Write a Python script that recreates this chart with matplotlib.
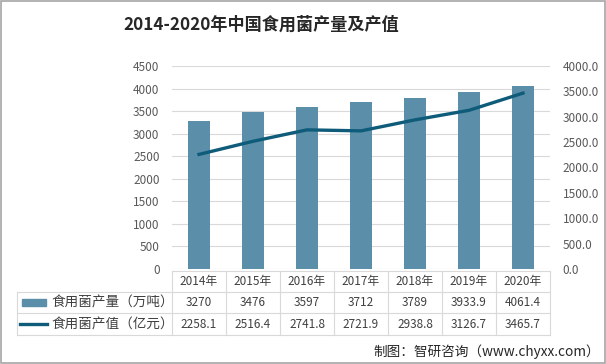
import numpy as np
import matplotlib.pyplot as plt
from matplotlib.patches import Rectangle

plt.rcParams['font.family'] = ['Noto Sans CJK SC', 'DejaVu Sans']

years = ["2014年", "2015年", "2016年", "2017年", "2018年", "2019年", "2020年"]
output_wt = [3270, 3476, 3597, 3712, 3789, 3933.9, 4061.4]
output_val = [2258.1, 2516.4, 2741.8, 2721.9, 2938.8, 3126.7, 3465.7]
output_wt_txt = ["3270", "3476", "3597", "3712", "3789", "3933.9", "4061.4"]
output_val_txt = ["2258.1", "2516.4", "2741.8", "2721.9", "2938.8", "3126.7", "3465.7"]
label_wt = "食用菌产量（万吨）"
label_val = "食用菌产值（亿元）"

BAR_C = "#5B8FA9"
LINE_C = "#0F5C7A"
GRID_C = "#D9D9D9"
TXT_C = "#595959"

W, H = 606, 364
fig = plt.figure(figsize=(W / 100, H / 100), dpi=100)
fig.patch.set_facecolor("white")

x0, x1, yb, yt = 172, 550, 269, 66
ax = fig.add_axes([x0 / W, 1 - yb / H, (x1 - x0) / W, (yb - yt) / H])
ax2 = ax.twinx()

x = np.arange(len(years))
ax.bar(x, output_wt, width=0.41, color=BAR_C, zorder=3)
ax2.plot(x, output_val, color=LINE_C, lw=2.4, zorder=4)

ax.set_xlim(-0.5, len(years) - 0.5)
ax.set_ylim(0, 4500)
ax.set_yticks(np.arange(0, 4501, 500))
ax2.set_ylim(0, 4000)
ax2.set_yticks(np.arange(0, 4001, 500))
ax2.set_yticklabels([f"{v:.1f}" for v in np.arange(0, 4001, 500)])
ax.grid(axis="y", color=GRID_C, lw=0.8, zorder=0)
ax.set_axisbelow(True)
ax.set_xticks([])
for a in (ax, ax2):
    for s in a.spines.values():
        s.set_visible(False)
    a.tick_params(axis="y", length=0, labelsize=8.5, labelcolor=TXT_C, pad=9)
ax.set_zorder(ax2.get_zorder() - 1)
ax2.patch.set_visible(False)

# data table under the plot
col_w = (x1 - x0) / len(years)
rows_y = [271, 292, 313, 335]
tl = 17


def fx(px):
    return px / W


def fy(py):
    return 1 - py / H


lkw = dict(color=GRID_C, lw=0.8, transform=fig.transFigure)
fig.add_artist(plt.Line2D([fx(x0), fx(x1)], [fy(rows_y[0])] * 2, **lkw))
for ry in rows_y[1:]:
    fig.add_artist(plt.Line2D([fx(tl), fx(x1)], [fy(ry)] * 2, **lkw))
fig.add_artist(plt.Line2D([fx(tl), fx(tl)], [fy(rows_y[1]), fy(rows_y[3])], **lkw))
for i in range(len(years) + 1):
    cx = x0 + i * col_w
    fig.add_artist(plt.Line2D([fx(cx), fx(cx)], [fy(rows_y[0]), fy(rows_y[3])], **lkw))

for i, (yr, a, b) in enumerate(zip(years, output_wt_txt, output_val_txt)):
    cx = x0 + (i + 0.5) * col_w
    for ry, t in zip(rows_y[:3], (yr, a, b)):
        fig.text(fx(cx), fy(ry + 11), t, ha="center", va="center", fontsize=8.5, color="#404040")

# legend cells
ly1 = (rows_y[1] + rows_y[2]) / 2
ly2 = (rows_y[2] + rows_y[3]) / 2
fig.add_artist(Rectangle((fx(22), fy(ly1 + 3.5)), fx(24), 7 / H, color=BAR_C, transform=fig.transFigure))
fig.add_artist(plt.Line2D([fx(20), fx(47)], [fy(ly2)] * 2, color=LINE_C, lw=2.4, transform=fig.transFigure))
fig.text(fx(51), fy(ly1), label_wt, ha="left", va="center", fontsize=9.8, color="#404040")
fig.text(fx(51), fy(ly2), label_val, ha="left", va="center", fontsize=9.8, color="#404040")

fig.text(fx(261), fy(25), "2014-2020年中国食用菌产量及产值", ha="center", va="center",
         fontsize=12.3, fontweight="bold", color="#262626")
fig.text(fx(600), fy(352), "制图：智研咨询（www.chyxx.com）", ha="right", va="center",
         fontsize=9.8, color="#262626")

fig.add_artist(Rectangle((0.001, 0.002), 0.997, 0.995, fill=False, ec="#A6A6A6", lw=1.2,
                         transform=fig.transFigure))

fig.savefig("out.png", dpi=100)
